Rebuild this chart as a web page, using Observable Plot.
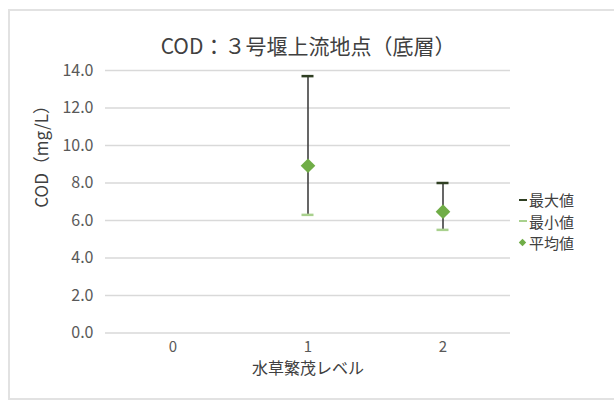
<!DOCTYPE html>
<html><head><meta charset="utf-8">
<script src="https://cdn.jsdelivr.net/npm/d3@7"></script>
<script src="https://cdn.jsdelivr.net/npm/@observablehq/plot@0.6"></script>
<style>
body{margin:0;background:#fff;font-family:"Noto Sans CJK JP","Noto Sans",sans-serif;}
#wrap{position:relative;width:614px;height:400px;overflow:hidden;}
#border{position:absolute;left:8px;top:9px;width:620px;height:387px;border:2px solid #e2e2e2;border-right:none;}
#legend{position:absolute;left:519px;top:189px;font-size:15px;color:#404040;line-height:21.5px;}
#legend div{display:flex;align-items:center;}
.sw{display:inline-block;width:8px;margin-right:2px;}
</style></head>
<body><div id="wrap"><div id="border"></div><div id="chart"></div>
<div id="legend">
<div><span class="sw" style="height:2px;background:#2f3f22"></span>最大値</div>
<div><span class="sw" style="height:2px;background:#a9d18e"></span>最小値</div>
<div><span class="sw" style="height:7px;width:7px;background:#70ad47;transform:rotate(45deg) scale(0.75);margin-right:3px"></span>平均値</div>
</div></div>
<script>
const levels = ["0", "1", "2"];
const maxVals = [null, 13.7, 8.0];
const minVals = [null, 6.3, 5.5];
const meanVals = [null, 8.92, 6.47];
const yTicks = [0, 2, 4, 6, 8, 10, 12, 14];
const title = "COD：３号堰上流地点（底層）";
const yLabel = "COD（mg/L）";
const xLabel = "水草繁茂レベル";

const data = levels.map((l, i) => ({level: l, max: maxVals[i], min: minVals[i], mean: meanVals[i]}))
  .filter(d => d.mean != null);

const capInset = (135 - 12) / 2;
const chart = Plot.plot({
  width: 614, height: 400,
  marginTop: 70, marginBottom: 67.5, marginLeft: 105, marginRight: 104,
  style: {fontFamily: '"Noto Sans CJK JP","Noto Sans",sans-serif', background: "transparent"},
  x: {type: "band", domain: levels, padding: 0, label: null},
  y: {domain: [0, 14], label: null},
  marks: [
    Plot.ruleY(yTicks, {stroke: "#d9d9d9", strokeWidth: 1.5}),
    Plot.axisY({ticks: yTicks, tickFormat: d3.format(".1f"), tickSize: 0, tickPadding: 12, fontSize: 16, color: "#595959", label: null}),
    Plot.axisX({tickSize: 0, tickPadding: 8, fontSize: 15, color: "#595959", label: null}),
    Plot.ruleX(data, {x: "level", y1: "min", y2: "max", stroke: "#404040", strokeWidth: 1.6}),
    Plot.tickY(data, {x: "level", y: "max", stroke: "#2f3f22", strokeWidth: 2.5, insetLeft: capInset, insetRight: capInset}),
    Plot.tickY(data, {x: "level", y: "min", stroke: "#a9d18e", strokeWidth: 2.5, insetLeft: capInset, insetRight: capInset}),
    Plot.dot(data, {x: "level", y: "mean", symbol: "diamond2", r: 6.6, fill: "#70ad47", stroke: "none"}),
    Plot.text([title], {frameAnchor: "top", dy: -31, fontSize: 21, fill: "#404040"}),
    Plot.text([yLabel], {frameAnchor: "left", dx: -63, dy: 6, rotate: -90, fontSize: 17, fill: "#404040"}),
    Plot.text([xLabel], {frameAnchor: "bottom", dy: 41, fontSize: 16, fill: "#404040"})
  ]
});
document.getElementById("chart").appendChild(chart);
</script></body></html>
